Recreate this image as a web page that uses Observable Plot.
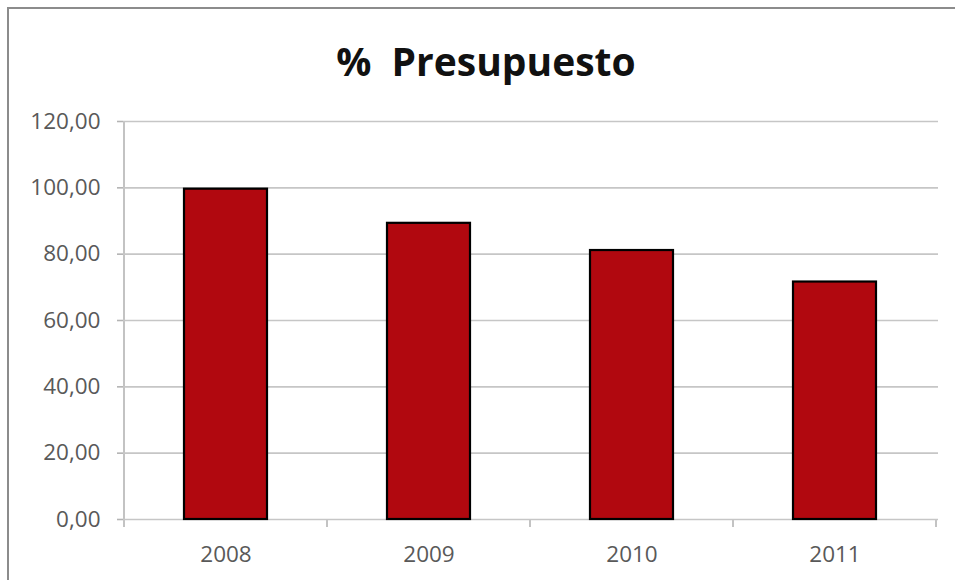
<!DOCTYPE html>
<html>
<head>
<meta charset="utf-8">
<script src="https://cdn.jsdelivr.net/npm/d3@7"></script>
<script src="https://cdn.jsdelivr.net/npm/@observablehq/plot@0.6"></script>
<style>
  html, body { margin: 0; padding: 0; background: #fff; }
  #wrap { position: relative; width: 955px; height: 580px; overflow: hidden; background: #fff; }
  #frame { position: absolute; left: 7px; top: 7px; right: -10px; bottom: -10px;
           border-left: 2px solid #8c8c8c; border-top: 2px solid #8c8c8c; }
  #title { position: absolute; left: 0; width: 972px; top: 41px; text-align: center;
           font-family: "Open Sans", sans-serif; font-weight: 700; font-size: 39px; line-height: 39px;
           color: #111; word-spacing: 10px; }
  #chart { position: absolute; left: 0; top: 0; }
</style>
</head>
<body>
<div id="wrap">
  <div id="frame"></div>
  <div id="chart"></div>
  <div id="title">% Presupuesto</div>
</div>
<script>
const years = ["2008", "2009", "2010", "2011"];
const values = [99.6, 89.3, 81.1, 71.6];
const yTicks = [0, 20, 40, 60, 80, 100, 120];

const data = years.map((year, i) => ({year, value: values[i]}));

const plot = Plot.plot({
  width: 955,
  height: 580,
  marginTop: 121,
  marginBottom: 61,
  marginLeft: 123,
  marginRight: 17,
  style: {fontFamily: "Open Sans, sans-serif", fontSize: "22.5px", color: "#595959", background: "transparent", overflow: "visible"},
  x: {domain: years, paddingInner: 0.59, paddingOuter: 0.295, label: null, tickSize: 0, tickPadding: 27},
  y: {domain: [0, 120], ticks: yTicks, tickFormat: d => d.toFixed(2).replace(".", ","), label: null, tickSize: 6, tickPadding: 17},
  marks: [
    Plot.ruleY(yTicks, {stroke: "#c6c6c6", strokeWidth: 1.6}),
    Plot.barY(data, {x: "year", y: "value", fill: "#b1080f", stroke: "#000", strokeWidth: 2.2})
  ]
});
document.getElementById("chart").appendChild(plot);

// axis styling: light grey tick marks and axis lines
const svg = d3.select(plot);
svg.selectAll('[aria-label^="y-axis"] path, [aria-label^="y-axis"] line').attr("stroke", "#b4b4b4").attr("stroke-width", 1.6);

const xs = plot.scale("x");
const ys = plot.scale("y");
const step = xs.apply(years[1]) - xs.apply(years[0]);
const bw = xs.bandwidth;
const centers = years.map(y => xs.apply(y) + bw / 2);
const bounds = [centers[0] - step / 2, ...centers.map(c => c + step / 2)];
const y0 = ys.apply(0), yTop = ys.apply(120);
const g = svg.insert("g", ":first-child").attr("stroke", "#b4b4b4").attr("stroke-width", 1.6);
g.append("line").attr("x1", bounds[0]).attr("x2", bounds[0]).attr("y1", yTop).attr("y2", y0 + 8);
g.selectAll(".xt").data(bounds.slice(1)).join("line")
  .attr("x1", d => d).attr("x2", d => d).attr("y1", y0).attr("y2", y0 + 8);
</script>
</body>
</html>
